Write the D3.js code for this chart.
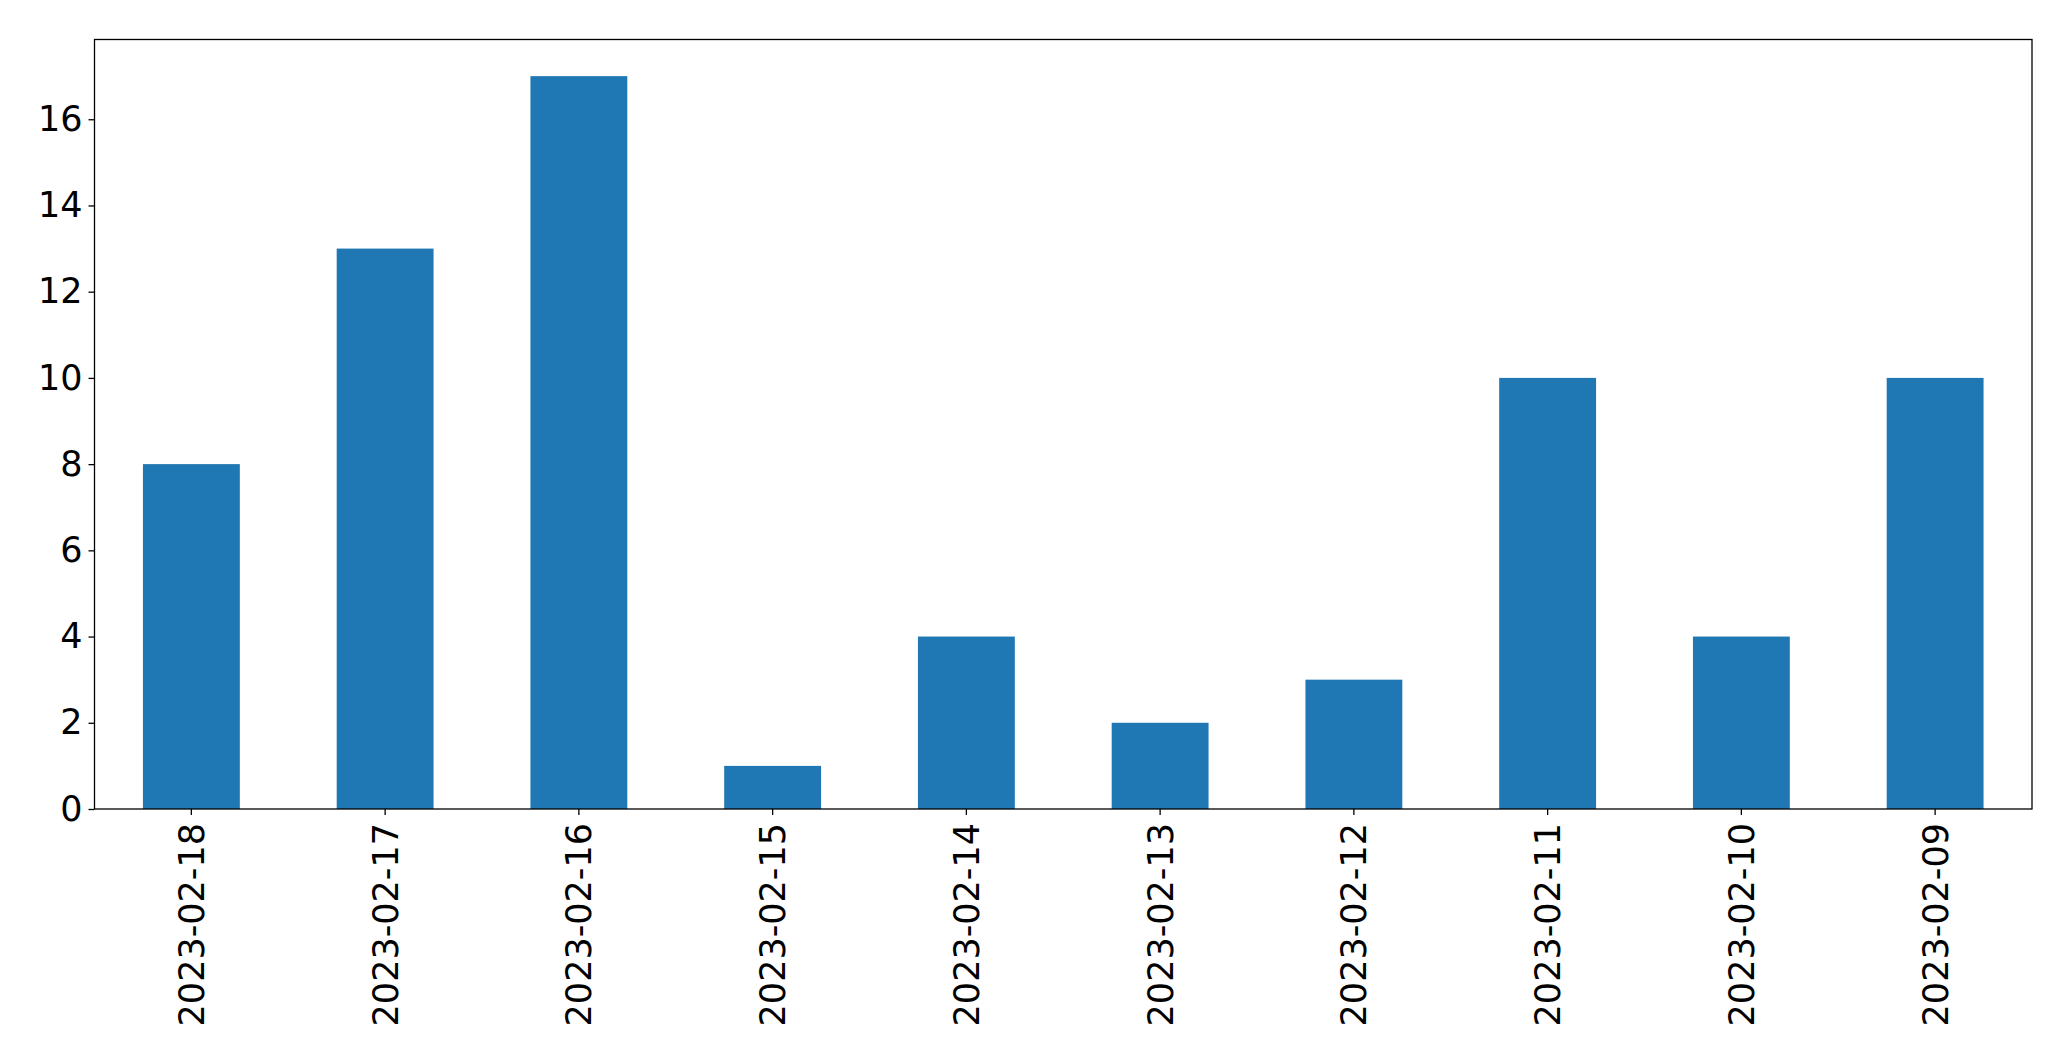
<!DOCTYPE html>
<html>
<head>
<meta charset="utf-8">
<script src="https://cdn.jsdelivr.net/npm/d3@7"></script>
<style>
html, body { margin: 0; padding: 0; background: #fff; }
svg { display: block; }
</style>
</head>
<body>
<svg id="chart" width="2071" height="1061"></svg>
<script>
const categories = ["2023-02-18","2023-02-17","2023-02-16","2023-02-15","2023-02-14","2023-02-13","2023-02-12","2023-02-11","2023-02-10","2023-02-09"];
const values = [8, 13, 17, 1, 4, 2, 3, 10, 4, 10];
const yTicks = [0, 2, 4, 6, 8, 10, 12, 14, 16];

(function () {
const svg = d3.select("#chart");
const mLeft = 94.5, mRight = 2032, mTop = 39.5, mBottom = 809;
const font = "'DejaVu Sans', sans-serif";

const x = d3.scaleBand().domain(categories).range([mLeft, mRight]).paddingInner(0.5).paddingOuter(0.25);
const y = d3.scaleLinear().domain([0, d3.max(values) * 1.05]).range([mBottom, mTop]);

svg.append("g").selectAll("rect").data(values).join("rect")
  .attr("x", (d, i) => x(categories[i]))
  .attr("y", d => y(d))
  .attr("width", x.bandwidth())
  .attr("height", d => y(0) - y(d))
  .attr("fill", "#1f77b4");

const yAxis = svg.append("g").attr("transform", `translate(${mLeft},0)`)
  .call(d3.axisLeft(y).tickValues(yTicks).tickSize(6).tickPadding(6).tickFormat(d3.format("d")));
yAxis.select(".domain").remove();
yAxis.selectAll("line").attr("stroke", "#000").attr("stroke-width", 1.3);
yAxis.selectAll("text").attr("font-family", font).attr("font-size", 35).attr("fill", "#000");

const xAxis = svg.append("g").attr("transform", `translate(0,${mBottom})`)
  .call(d3.axisBottom(x).tickSize(6).tickPadding(0));
xAxis.select(".domain").remove();
xAxis.selectAll("line").attr("stroke", "#000").attr("stroke-width", 1.3);
xAxis.selectAll("text")
  .attr("font-family", font).attr("font-size", 35).attr("fill", "#000")
  .attr("text-anchor", "end")
  .attr("transform", "rotate(-90)")
  .attr("x", -14).attr("y", 0).attr("dy", "0.36em");

svg.append("rect")
  .attr("x", mLeft).attr("y", mTop)
  .attr("width", mRight - mLeft).attr("height", mBottom - mTop)
  .attr("fill", "none").attr("stroke", "#000").attr("stroke-width", 1.3);
})();
</script>
</body>
</html>
